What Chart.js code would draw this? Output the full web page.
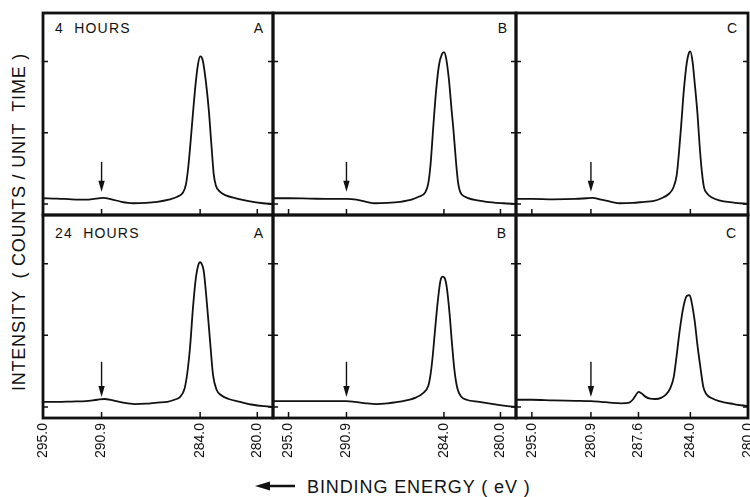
<!DOCTYPE html>
<html>
<head>
<meta charset="utf-8">
<script src="https://cdn.jsdelivr.net/npm/chart.js@4.4.0/dist/chart.umd.min.js"></script>
<style>
html,body{margin:0;padding:0;background:#fff;}
#wrap{position:relative;width:750px;height:497px;overflow:hidden;background:#fff;font-family:"Liberation Sans",Arial,sans-serif;color:#111;}
#wrap canvas{position:absolute;}
.lbl{position:absolute;font-size:14px;line-height:14px;white-space:pre;}
.lbl.l{letter-spacing:1.2px;}
#ytitle{position:absolute;left:-181.5px;top:212px;width:400px;height:20px;line-height:20px;text-align:center;font-size:18px;letter-spacing:0.8px;transform:rotate(-90deg);white-space:pre;}
#xtitle{position:absolute;left:307px;top:478px;font-size:18px;line-height:18px;letter-spacing:0.9px;white-space:pre;}
#xarrow{position:absolute;left:250px;top:478px;}
</style>
</head>
<body>
<div id="wrap">
  <div class="lbl l" style="left:55px;top:21px;">4  HOURS</div>
  <div class="lbl" style="right:487px;top:21px;">A</div>
  <div class="lbl" style="right:243px;top:21px;">B</div>
  <div class="lbl" style="right:13px;top:21px;">C</div>
  <div class="lbl l" style="left:55px;top:226px;">24  HOURS</div>
  <div class="lbl" style="right:487px;top:226px;">A</div>
  <div class="lbl" style="right:244px;top:226px;">B</div>
  <div class="lbl" style="right:14px;top:226px;">C</div>
  <div id="ytitle">INTENSITY  ( COUNTS / UNIT  TIME )</div>
  <svg id="xarrow" width="50" height="16"><line x1="15" y1="8" x2="45" y2="8" stroke="#111" stroke-width="2.5"/><polygon points="5,8 20,3.5 20,12.5" fill="#111"/></svg>
  <div id="xtitle">BINDING ENERGY ( eV )</div>
</div>
<script>
// ---- tick values / labels ----
const energyTicks = [295.0, 290.9, 284.0, 280.0];
const energyTickLabels = ['295.0', '290.9', '284.0', '280.0'];
const energyTicks24C = [295.0, 290.9, 287.6, 284.0, 280.0];
const energyTickLabels24C = ['295.0', '280.9', '287.6', '284.0', '280.0'];
const intensityTicks = [0, 1, 2];
const arrowEnergy = 290.9;

// ---- 4 hours ----
const energy4hA = [295.0,294.0,293.0,292.0,291.3,290.8,290.2,289.5,288.7,287.8,287.0,286.2,285.6,285.2,285.0,284.85,284.7,284.5,284.3,284.15,284.0,283.9,283.8,283.6,283.4,283.2,283.05,282.9,282.6,282.2,281.5,280.6,279.6,278.9];
const intensity4hA = [0.08,0.075,0.065,0.06,0.075,0.085,0.065,0.03,0.01,0.015,0.03,0.06,0.10,0.16,0.27,0.48,0.80,1.28,1.72,1.96,2.07,2.06,2.0,1.72,1.33,0.8,0.42,0.26,0.17,0.12,0.08,0.04,0.01,0.0];

const energy4hB = [296.1,295.0,293.5,292.0,290.9,290.2,289.5,288.9,288.0,287.1,286.3,285.8,285.3,285.1,284.95,284.76,284.55,284.35,284.15,284.0,283.85,283.65,283.45,283.34,283.15,283.0,282.85,282.5,281.9,281.0,279.8,278.9];
const intensity4hB = [0.08,0.08,0.075,0.07,0.07,0.06,0.03,0.01,0.015,0.03,0.06,0.10,0.17,0.30,0.55,1.07,1.6,1.95,2.1,2.13,2.05,1.75,1.3,1.07,0.6,0.3,0.17,0.10,0.06,0.03,0.01,0.0];

const energy4hC = [296.1,295.0,293.5,292.0,291.2,290.8,290.2,289.5,288.9,288.0,287.2,286.6,286.0,285.5,285.2,284.95,284.8,284.65,284.45,284.25,284.1,284.0,283.85,283.7,283.5,283.35,283.2,283.05,282.85,282.5,282.0,281.0,280.0];
const intensity4hC = [0.07,0.07,0.065,0.07,0.08,0.085,0.06,0.03,0.01,0.015,0.03,0.04,0.08,0.14,0.22,0.40,0.7,1.07,1.6,1.98,2.12,2.14,2.0,1.7,1.25,0.8,0.45,0.23,0.15,0.09,0.05,0.02,0.0];

// ---- 24 hours ----
const energy24hA = [295.0,294.0,293.0,292.0,291.2,290.7,290.1,289.4,288.6,287.8,287.0,286.3,285.8,285.4,285.1,284.9,284.7,284.5,284.3,284.1,284.0,283.9,283.75,283.55,283.31,283.1,282.85,282.5,282.0,281.2,280.3,279.5,278.9];
const intensity24hA = [0.07,0.07,0.075,0.08,0.10,0.11,0.09,0.06,0.04,0.045,0.06,0.07,0.10,0.14,0.25,0.47,0.85,1.39,1.8,2.0,2.02,2.0,1.9,1.5,0.93,0.45,0.24,0.16,0.11,0.07,0.03,0.01,0.0];

const energy24hB = [296.1,295.0,293.5,292.0,290.9,290.3,289.5,288.8,288.0,286.9,286.0,285.5,285.1,284.95,284.8,284.65,284.45,284.25,284.1,283.95,283.8,283.6,283.45,283.25,283.05,282.8,282.4,281.5,280.5,279.5,278.9];
const intensity24hB = [0.08,0.08,0.08,0.08,0.08,0.07,0.05,0.04,0.05,0.08,0.13,0.19,0.30,0.45,0.70,1.03,1.45,1.76,1.82,1.80,1.67,1.3,0.93,0.5,0.26,0.15,0.10,0.07,0.04,0.01,0.0];

const energy24hC = [296.1,295.0,293.5,292.0,290.9,290.2,289.6,288.8,288.3,288.0,287.8,287.6,287.4,287.1,286.8,286.4,286.0,285.7,285.4,285.15,284.95,284.75,284.5,284.25,284.05,283.9,283.7,283.5,283.3,283.1,282.9,282.5,282.0,281.0,280.0];
const intensity24hC = [0.10,0.10,0.09,0.085,0.08,0.07,0.06,0.05,0.055,0.10,0.16,0.21,0.19,0.14,0.115,0.11,0.13,0.17,0.26,0.42,0.72,1.05,1.38,1.55,1.56,1.45,1.2,0.85,0.55,0.28,0.18,0.12,0.08,0.04,0.01];

// ---- layout (pixels) ----
const cols = [
  {left: 43, width: 230, lo: 278.9, hi: 295.0},
  {left: 273, width: 243, lo: 278.9, hi: 296.1},
  {left: 516, width: 232, lo: 280.0, hi: 296.1}
];
const rows = [
  {top: 13, height: 202, arrowFrom: 0.59, arrowTo: 0.17},
  {top: 215, height: 203, arrowFrom: 0.63, arrowTo: 0.14}
];
const panels = [
  {r: 0, c: 0, e: energy4hA, v: intensity4hA, t: energyTicks, tl: energyTickLabels},
  {r: 0, c: 1, e: energy4hB, v: intensity4hB, t: energyTicks, tl: energyTickLabels},
  {r: 0, c: 2, e: energy4hC, v: intensity4hC, t: energyTicks, tl: energyTickLabels},
  {r: 1, c: 0, e: energy24hA, v: intensity24hA, t: energyTicks, tl: energyTickLabels},
  {r: 1, c: 1, e: energy24hB, v: intensity24hB, t: energyTicks, tl: energyTickLabels},
  {r: 1, c: 2, e: energy24hC, v: intensity24hC, t: energyTicks24C, tl: energyTickLabels24C}
];

Chart.defaults.font.family = '"Liberation Sans", Arial, sans-serif';
const INK = '#111';
const PAD_X = 40, PAD_Y = 4, LABEL_H = 60;

function makeDecor(xTicks, row) {
  return {
    id: 'panelDecor',
    afterDatasetsDraw(chart) {
      const {ctx, chartArea: a, scales: {x, y}} = chart;
      ctx.save();
      ctx.strokeStyle = INK;
      ctx.fillStyle = INK;
      ctx.lineWidth = 1.5;
      ctx.beginPath();
      xTicks.forEach(v => {
        const px = x.getPixelForValue(v);
        ctx.moveTo(px, a.bottom); ctx.lineTo(px, a.bottom - 6);
      });
      intensityTicks.forEach(v => {
        const py = y.getPixelForValue(v);
        ctx.moveTo(a.left, py); ctx.lineTo(a.left + 5, py);
        ctx.moveTo(a.right, py); ctx.lineTo(a.right - 5, py);
      });
      ctx.stroke();
      // arrow marker
      const ax = x.getPixelForValue(arrowEnergy);
      const y0 = y.getPixelForValue(row.arrowFrom);
      const y1 = y.getPixelForValue(row.arrowTo);
      ctx.lineWidth = 1.4;
      ctx.beginPath(); ctx.moveTo(ax, y0); ctx.lineTo(ax, y1 - 8); ctx.stroke();
      ctx.beginPath(); ctx.moveTo(ax, y1); ctx.lineTo(ax - 3.2, y1 - 11); ctx.lineTo(ax + 3.2, y1 - 11); ctx.closePath(); ctx.fill();
      // frame
      ctx.lineWidth = 2.8;
      ctx.strokeRect(a.left, a.top, a.right - a.left, a.bottom - a.top);
      ctx.restore();
    }
  };
}

const wrap = document.getElementById('wrap');
panels.forEach(p => {
  const col = cols[p.c], row = rows[p.r];
  const bottomRow = p.r === 1;
  const cv = document.createElement('canvas');
  const w = col.width + 2 * PAD_X;
  const h = row.height + PAD_Y + (bottomRow ? LABEL_H : PAD_Y);
  cv.width = w; cv.height = h;
  cv.style.left = (col.left - PAD_X) + 'px';
  cv.style.top = (row.top - PAD_Y) + 'px';
  cv.style.width = w + 'px'; cv.style.height = h + 'px';
  wrap.appendChild(cv);
  new Chart(cv, {
    type: 'line',
    data: {
      datasets: [{
        data: p.e.map((e, i) => ({x: e, y: p.v[i]})),
        borderColor: INK,
        borderWidth: 1.8,
        pointRadius: 0,
        fill: false,
        cubicInterpolationMode: 'monotone'
      }]
    },
    options: {
      responsive: false,
      animation: false,
      devicePixelRatio: 1,
      events: [],
      layout: {padding: {left: PAD_X, right: PAD_X, top: PAD_Y, bottom: bottomRow ? 0 : PAD_Y}},
      plugins: {legend: {display: false}, tooltip: {enabled: false}},
      scales: {
        x: {
          type: 'linear', reverse: true, min: col.lo, max: col.hi,
          display: bottomRow,
          afterBuildTicks: s => { s.ticks = p.t.map(v => ({value: v})); },
          afterFit: s => { if (bottomRow) { s.height = LABEL_H; } },
          grid: {display: false, drawTicks: false},
          border: {display: false},
          ticks: {
            autoSkip: false, minRotation: 90, maxRotation: 90, padding: 5,
            color: INK, font: {size: 14},
            callback: (v, i) => p.tl[i]
          }
        },
        y: {display: false, min: -0.155, max: 2.68}
      }
    },
    plugins: [makeDecor(p.t, row)]
  });
});
</script>
</body>
</html>
